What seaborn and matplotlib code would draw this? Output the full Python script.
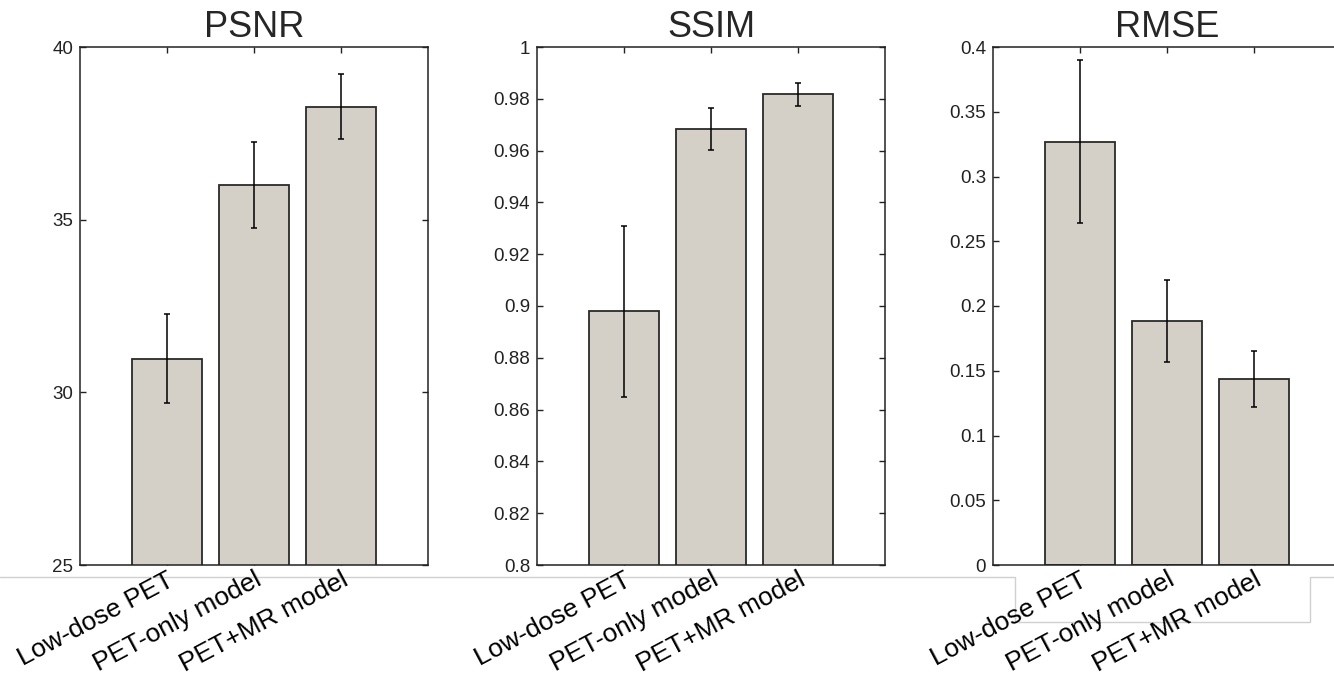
import matplotlib
matplotlib.use("Agg", force=True)
import matplotlib.pyplot as plt
import matplotlib.transforms as mtransforms
from matplotlib.lines import Line2D
import seaborn as sns

METHODS = ["Low-dose PET", "PET-only model", "PET+MR model"]

PSNR_MEAN = [30.97, 36.0, 38.27]
PSNR_ERR = [1.29, 1.25, 0.94]

SSIM_MEAN = [0.898, 0.9683, 0.9817]
SSIM_ERR = [0.033, 0.008, 0.0044]

RMSE_MEAN = [0.327, 0.1884, 0.1439]
RMSE_ERR = [0.0626, 0.0317, 0.0216]

PANELS = [
    ("PSNR", PSNR_MEAN, PSNR_ERR, (25, 40), [25, 30, 35, 40], ["25", "30", "35", "40"]),
    ("SSIM", SSIM_MEAN, SSIM_ERR, (0.8, 1.0),
     [0.8, 0.82, 0.84, 0.86, 0.88, 0.9, 0.92, 0.94, 0.96, 0.98, 1.0],
     ["0.8", "0.82", "0.84", "0.86", "0.88", "0.9", "0.92", "0.94", "0.96", "0.98", "1"]),
    ("RMSE", RMSE_MEAN, RMSE_ERR, (0, 0.4),
     [0, 0.05, 0.1, 0.15, 0.2, 0.25, 0.3, 0.35, 0.4],
     ["0", "0.05", "0.1", "0.15", "0.2", "0.25", "0.3", "0.35", "0.4"]),
]

BAR_COLOR = "#d4d0c8"
EDGE_COLOR = "#2a2a2a"

sns.set_style("white")
plt.rcParams["font.family"] = ["Liberation Sans", "DejaVu Sans"]

W, H = 1334, 681
fig = plt.figure(figsize=(W / 100, H / 100), dpi=100)

lefts = [80, 537, 993]
for left, (title, means, errs, ylim, yticks, ylabels) in zip(lefts, PANELS):
    ax = fig.add_axes([left / W, 1 - 565 / H, 348 / W, 518 / H])
    sns.barplot(x=METHODS, y=means, color=BAR_COLOR, edgecolor=EDGE_COLOR,
                linewidth=1.3, width=0.8, saturation=1, errorbar=None, ax=ax)
    ax.errorbar(range(len(means)), means, yerr=errs, fmt="none", ecolor="black",
                elinewidth=1.1, capsize=2.2, capthick=1.1, zorder=5)
    ax.set_xlim(-1, 3)
    ax.set_ylim(*ylim)
    ax.set_yticks(yticks)
    ax.set_yticklabels(ylabels)
    ax.set_xticks(range(len(METHODS)))
    ax.set_xticklabels(METHODS, rotation=28, ha="right", va="top", rotation_mode="anchor")
    offset = mtransforms.ScaledTranslation(6 / 100, -4 / 100, fig.dpi_scale_trans)
    for lbl in ax.get_xticklabels():
        lbl.set_transform(lbl.get_transform() + offset)
    ax.tick_params(axis="both", direction="in", length=4, width=1, color="#222222",
                   top=True, right=True, bottom=True, left=True)
    ax.tick_params(axis="y", labelsize=13.5, labelcolor="#222222", pad=5)
    ax.tick_params(axis="x", labelsize=19, labelcolor="black", pad=2)
    for sp in ax.spines.values():
        sp.set_visible(True)
        sp.set_color("#222222")
        sp.set_linewidth(1.1)
    ax.set_xlabel("")
    ax.set_ylabel("")
    ax.set_title(title, fontsize=26, pad=7)

# light grey screenshot frame lines below the axes
px = [0, 1015, 1015, 1310, 1310, 1334]
py = [576.5, 576.5, 622, 622, 576.5, 576.5]
fig.add_artist(Line2D([x / W for x in px], [1 - y / H for y in py],
                      transform=fig.transFigure, color="#d0d0d0", linewidth=1, zorder=0))

fig.savefig("out.png", dpi=100)
